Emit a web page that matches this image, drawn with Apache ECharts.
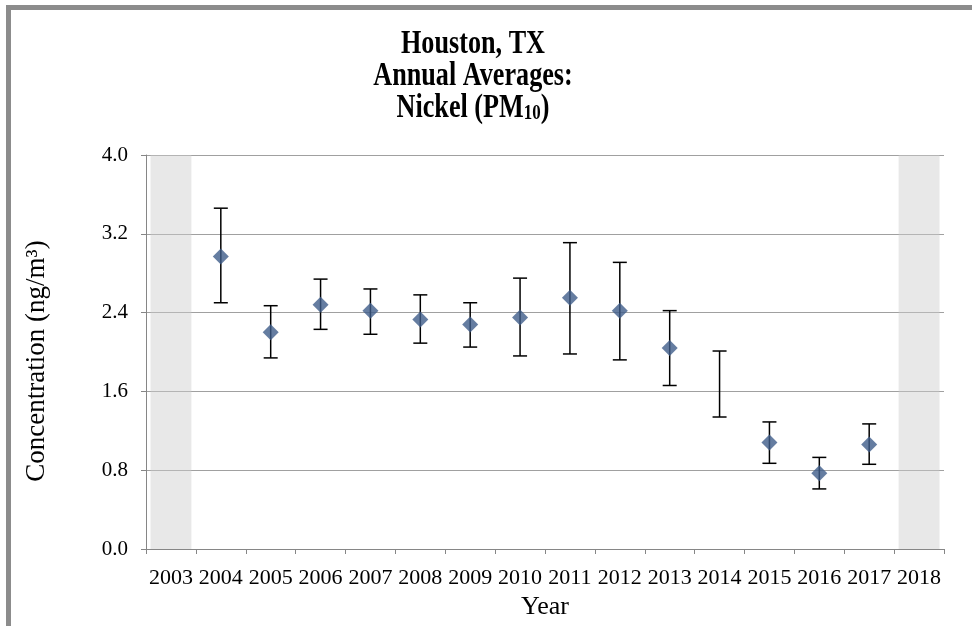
<!DOCTYPE html>
<html>
<head>
<meta charset="utf-8">
<script src="https://cdn.jsdelivr.net/npm/echarts@6/dist/echarts.min.js"></script>
<style>
html,body{margin:0;padding:0;background:#fff;}
#c{width:972px;height:626px;}
</style>
</head>
<body>
<div id="c"></div>
<script>
const years = ['2003','2004','2005','2006','2007','2008','2009','2010','2011','2012','2013','2014','2015','2016','2017','2018'];
const means = [null, 2.97, 2.20, 2.48, 2.42, 2.33, 2.28, 2.35, 2.55, 2.42, 2.04, null, 1.08, 0.77, 1.06, null];
const lows  = [null, 2.50, 1.94, 2.23, 2.18, 2.09, 2.05, 1.96, 1.98, 1.92, 1.66, 1.34, 0.87, 0.61, 0.86, null];
const highs = [null, 3.46, 2.47, 2.74, 2.64, 2.58, 2.50, 2.75, 3.11, 2.91, 2.42, 2.01, 1.29, 0.93, 1.27, null];
const shadedYears = ['2003', '2018'];
const shadeTop = 4.0;
const yMin = 0, yMax = 4.0, yStep = 0.8;
const titleText = 'Houston, TX\nAnnual Averages:\nNickel (PM{sub|10})';

const serif = '"Liberation Serif", "Times New Roman", serif';
const chart = echarts.init(document.getElementById('c'));

const errData = [];
years.forEach((y, i) => {
  if (lows[i] != null && highs[i] != null) errData.push([i, lows[i], highs[i]]);
});

chart.setOption({
  backgroundColor: '#fff',
  animation: false,
  graphic: [
    { type: 'rect', shape: { x: 6, y: 5, width: 980, height: 5 }, style: { fill: '#8c8c8c' } },
    { type: 'rect', shape: { x: 6, y: 5, width: 5, height: 640 }, style: { fill: '#8c8c8c' } },
    {
      type: 'text',
      x: 473,
      y: 28,
      scaleX: 0.77,
      style: {
        text: titleText,
        fill: '#000',
        fontFamily: serif,
        fontWeight: 'bold',
        fontSize: 34,
        lineHeight: 32,
        align: 'center',
        textAlign: 'center',
        verticalAlign: 'top',
        textVerticalAlign: 'top',
        rich: {
          sub: { fontFamily: serif, fontWeight: 'bold', fontSize: 22, lineHeight: 8, verticalAlign: 'bottom', fill: '#000' }
        }
      }
    }
  ],
  grid: { left: 146, right: 28, top: 155, bottom: 77, containLabel: false },
  xAxis: {
    type: 'category',
    data: years,
    boundaryGap: true,
    name: 'Year',
    nameLocation: 'middle',
    nameGap: 44,
    nameTextStyle: { fontFamily: serif, fontSize: 26, color: '#000' },
    axisLine: { lineStyle: { color: '#868686', width: 1 } },
    axisTick: { show: true, interval: 0, length: 5, lineStyle: { color: '#868686' } },
    axisLabel: { interval: 0, fontFamily: serif, fontSize: 22, color: '#000', margin: 18 },
    splitLine: { show: false }
  },
  yAxis: {
    type: 'value',
    min: yMin, max: yMax, interval: yStep,
    name: 'Concentration (ng/m³)',
    nameLocation: 'middle',
    nameGap: 96,
    nameTextStyle: { fontFamily: serif, fontSize: 27, color: '#000', padding: [0, 18, 0, 0] },
    axisLine: { show: true, lineStyle: { color: '#868686', width: 1 } },
    axisTick: { show: true, length: 5, lineStyle: { color: '#868686' } },
    axisLabel: { fontFamily: serif, fontSize: 21, color: '#000', margin: 18, formatter: v => v.toFixed(1) },
    splitLine: { show: true, lineStyle: { color: '#a0a0a0', width: 1 } }
  },
  series: [
    {
      type: 'bar',
      data: years.map(y => shadedYears.includes(y) ? shadeTop : null),
      barWidth: '82%',
      itemStyle: { color: 'rgba(205,205,205,0.45)' },
      silent: true,
      z: 1
    },
    {
      type: 'custom',
      data: errData,
      z: 3,
      renderItem: function (params, api) {
        const x = api.value(0);
        const lo = api.coord([x, api.value(1)]);
        const hi = api.coord([x, api.value(2)]);
        const hw = 7;
        const st = { stroke: '#000', lineWidth: 1.5 };
        return {
          type: 'group',
          children: [
            { type: 'line', shape: { x1: lo[0], y1: lo[1], x2: hi[0], y2: hi[1] }, style: st },
            { type: 'line', shape: { x1: hi[0] - hw, y1: hi[1], x2: hi[0] + hw, y2: hi[1] }, style: st },
            { type: 'line', shape: { x1: lo[0] - hw, y1: lo[1], x2: lo[0] + hw, y2: lo[1] }, style: st }
          ]
        };
      }
    },
    {
      type: 'scatter',
      data: means,
      symbol: 'diamond',
      symbolSize: 16,
      itemStyle: { color: '#3e5c8a' },
      z: 4
    }
  ]
});
</script>
</body>
</html>
